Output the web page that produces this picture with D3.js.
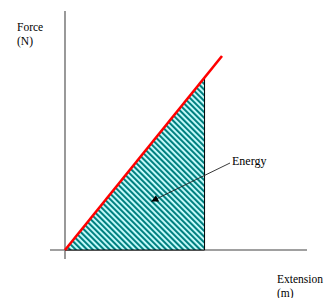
<!DOCTYPE html>
<html><head><meta charset="utf-8">
<script src="https://cdn.jsdelivr.net/npm/d3@7"></script>
<style>body{margin:0;background:#fff}svg{display:block}
text{font-family:"Liberation Serif","Times New Roman",Times,serif;font-size:12px;fill:#000}</style>
</head><body>
<script>
// Data
const extension = [0, 9];          // red line (Hooke's law)
const force = [0, 9];
const shadedExtension = [0, 8];    // area = energy stored
const shadedForce = [0, 8];
const labels = {y: ["Force", "(N)"], x: ["Extension", "(m)"], note: "Energy"};
const notePoint = [5, 2.3];

const W = 329, H = 298;
const svg = d3.select("body").append("svg").attr("width", W).attr("height", H);
const x = d3.scaleLinear().domain([0, 9]).range([65, 222]);
const y = d3.scaleLinear().domain([0, 9]).range([250, 56]);

const defs = svg.append("defs");
const pat = defs.append("pattern").attr("id", "hatch")
  .attr("patternUnits", "userSpaceOnUse").attr("width", 4).attr("height", 10)
  .attr("patternTransform", "rotate(-45)");
pat.append("rect").attr("width", 4).attr("height", 10).attr("fill", "#ccffff");
pat.append("rect").attr("width", 2.1).attr("height", 10).attr("fill", "#008080");
const mk = defs.append("marker").attr("id", "arr").attr("viewBox", "0 0 10 10")
  .attr("refX", 10).attr("refY", 5).attr("markerWidth", 9).attr("markerHeight", 7)
  .attr("markerUnits", "userSpaceOnUse").attr("orient", "auto");
mk.append("path").attr("d", "M0,0L10,5L0,10z").attr("fill", "#000");

// axes
svg.append("line").attr("x1", x(0)).attr("x2", x(0)).attr("y1", 11).attr("y2", 259)
  .attr("stroke", "#808080").attr("stroke-width", 1.6);
svg.append("line").attr("x1", 50).attr("x2", 307).attr("y1", y(0)).attr("y2", y(0))
  .attr("stroke", "#808080").attr("stroke-width", 1.6);

// shaded triangle
const tri = [[shadedExtension[0], shadedForce[0]], [shadedExtension[1], shadedForce[1]], [shadedExtension[1], 0]];
svg.append("path").attr("d", d3.line().x(d => x(d[0])).y(d => y(d[1]))(tri) + "Z")
  .attr("fill", "url(#hatch)").attr("stroke", "#000").attr("stroke-width", 1);

// red line
svg.append("path").attr("d", d3.line().x(d => x(d[0])).y(d => y(d[1]))(extension.map((e, i) => [e, force[i]])))
  .attr("stroke", "#ff0000").attr("stroke-width", 2.6).attr("fill", "none");

// annotation
svg.append("line").attr("x1", 230).attr("y1", 163).attr("x2", x(notePoint[0]) - 1).attr("y2", y(notePoint[1]) + 1)
  .attr("stroke", "#222").attr("stroke-width", 0.9).attr("marker-end", "url(#arr)");

const t = (xx, yy, s, fs) => svg.append("text").attr("x", xx).attr("y", yy)
  .style("font-size", (fs || 12) + "px").text(s);
t(232, 165, labels.note);
t(17, 31, labels.y[0], 11.5);
t(17, 45, labels.y[1], 11.5);
t(277, 283, labels.x[0], 11.5);
t(277, 297, labels.x[1], 11.5);
</script>
</body></html>
